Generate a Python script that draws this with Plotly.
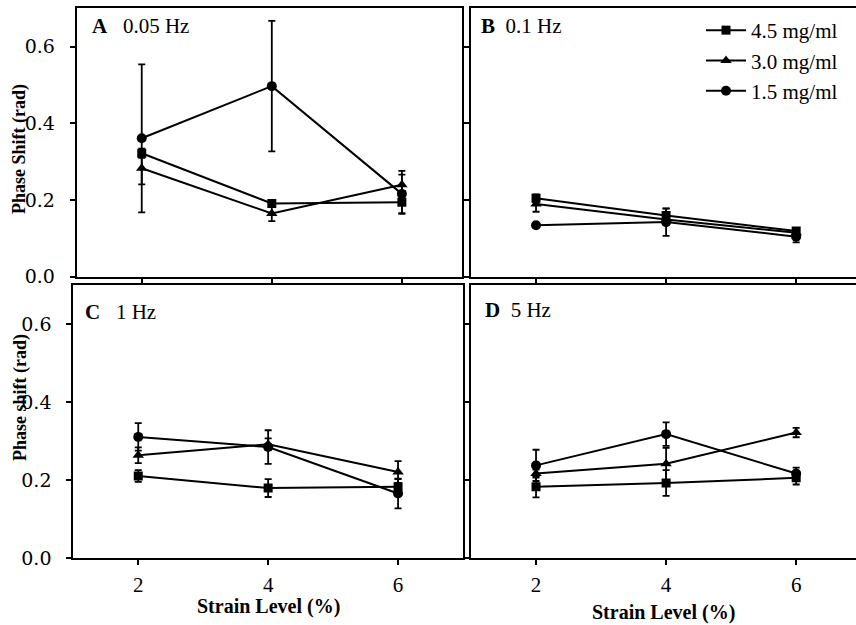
import plotly.graph_objects as go

W, H = 856, 625

strain = [2, 4, 6]
series_names = ["4.5 mg/ml", "3.0 mg/ml", "1.5 mg/ml"]
symbols = ["square", "triangle-up", "circle"]

# Panel A: 0.05 Hz
A_45 = [0.322, 0.191, 0.194]; A_45_err = [0.012, 0.008, 0.030]
A_30 = [0.283, 0.165, 0.240]; A_30_err = [0.042, 0.020, 0.036]
A_15 = [0.361, 0.497, 0.216]; A_15_err = [0.193, 0.170, 0.050]
# Panel B: 0.1 Hz
B_45 = [0.205, 0.160, 0.120]; B_45_err = [0.010, 0.018, 0.008]
B_30 = [0.190, 0.150, 0.115]; B_30_err = [0.020, 0.010, 0.010]
B_15 = [0.135, 0.143, 0.105]; B_15_err = [0.005, 0.036, 0.015]
# Panel C: 1 Hz
C_45 = [0.211, 0.180, 0.183]; C_45_err = [0.015, 0.023, 0.020]
C_30 = [0.264, 0.292, 0.221]; C_30_err = [0.020, 0.015, 0.028]
C_15 = [0.311, 0.285, 0.166]; C_15_err = [0.035, 0.043, 0.038]
# Panel D: 5 Hz
D_45 = [0.183, 0.193, 0.206]; D_45_err = [0.027, 0.033, 0.017]
D_30 = [0.217, 0.242, 0.322]; D_30_err = [0.010, 0.041, 0.012]
D_15 = [0.238, 0.318, 0.217]; D_15_err = [0.040, 0.030, 0.015]

panels = [
    ("x", "y", [(A_45, A_45_err), (A_30, A_30_err), (A_15, A_15_err)]),
    ("x2", "y2", [(B_45, B_45_err), (B_30, B_30_err), (B_15, B_15_err)]),
    ("x3", "y3", [(C_45, C_45_err), (C_30, C_30_err), (C_15, C_15_err)]),
    ("x4", "y4", [(D_45, D_45_err), (D_30, D_30_err), (D_15, D_15_err)]),
]
panel_labels = [("A", "0.05 Hz"), ("B", "0.1 Hz"), ("C", "1 Hz"), ("D", "5 Hz")]

FONT = "Liberation Serif, Times New Roman, serif"
YFONT = "DejaVu Serif, serif"
fig = go.Figure()
for pi, (xa, ya, data) in enumerate(panels):
    for si, (vals, errs) in enumerate(data):
        fig.add_trace(go.Scatter(
            x=strain, y=vals, xaxis=xa, yaxis=ya,
            mode="lines+markers",
            name=series_names[si],
            showlegend=(pi == 1),
            line=dict(color="black", width=2),
            marker=dict(symbol=symbols[si], size=9 if si == 0 else 10, color="black"),
            error_y=dict(type="data", array=errs, visible=True, color="black",
                         thickness=1.8, width=3.5),
        ))

def px_x(p):
    return p / W

def px_y(p):
    return 1 - p / H

common_x = dict(tickvals=[2, 4, 6], ticks="outside", ticklen=5, tickwidth=1.5,
                tickcolor="black", showline=True, linewidth=2, linecolor="black",
                mirror=True, showgrid=False, zeroline=False, automargin=False,
                tickfont=dict(family=FONT, size=21, color="black"),
                ticklabelstandoff=1)
common_y = dict(tickvals=[0, 0.2, 0.4, 0.6], tickformat=".1f", range=[0, 0.7],
                ticks="outside", ticklen=5, tickwidth=1.5, tickcolor="black",
                showline=True, linewidth=2, linecolor="black", showgrid=False,
                zeroline=False, automargin=False,
                tickfont=dict(family=YFONT, size=19, color="black"),
                ticklabelstandoff=11)

fig.update_layout(
    template="none",
    width=W, height=H, margin=dict(l=0, r=0, t=0, b=0, pad=0, autoexpand=False),
    paper_bgcolor="white", plot_bgcolor="white",
    font=dict(family=FONT, color="black"),
    xaxis=dict(common_x, domain=[px_x(76.7), px_x(461.7)], range=[1, 6.92],
               anchor="y", showticklabels=False),
    yaxis=dict(common_y, domain=[px_y(276.7), px_y(8.3)], anchor="x", mirror="ticks"),
    xaxis2=dict(common_x, domain=[px_x(471), 1.0], range=[1, 6.92],
                anchor="y2", showticklabels=False),
    yaxis2=dict(common_y, domain=[px_y(277), px_y(8.3)], anchor="x2",
                showticklabels=False, mirror=False),
    xaxis3=dict(common_x, domain=[px_x(73.3), px_x(463)], range=[1, 7.0], anchor="y3"),
    yaxis3=dict(common_y, domain=[px_y(558.3), px_y(285)], anchor="x3", mirror="ticks"),
    xaxis4=dict(common_x, domain=[px_x(471), 1.0], range=[1, 6.92], anchor="y4"),
    yaxis4=dict(common_y, domain=[px_y(558.3), px_y(285)], anchor="x4",
                showticklabels=False, mirror=False),
    legend=dict(x=px_x(701), y=px_y(10), xanchor="left", yanchor="top",
                bgcolor="rgba(0,0,0,0)", borderwidth=0,
                font=dict(family=FONT, size=21, color="black"),
                tracegroupgap=0, itemwidth=40),
)

# Panel labels
label_pos = [(90, 26), (479, 26), (83, 312), (483, 310)]
for (letter, freq), (lx, ly) in zip(panel_labels, label_pos):
    sep = "&nbsp;&nbsp;&nbsp;" if letter in "AC" else "&nbsp;&nbsp;"
    fig.add_annotation(text=f"<b>{letter}</b>{sep}{freq}",
                       xref="paper", yref="paper", x=px_x(lx), y=px_y(ly),
                       xanchor="left", yanchor="middle", showarrow=False,
                       font=dict(family=FONT, size=21, color="black"))

# Axis titles
fig.add_annotation(text="<b>Phase Shift (rad)</b>", xref="paper", yref="paper",
                   x=px_x(20), y=px_y(149), textangle=-90, showarrow=False,
                   xanchor="center", yanchor="middle",
                   font=dict(family=FONT, size=18, color="black"))
fig.add_annotation(text="<b>Phase shift (rad)</b>", xref="paper", yref="paper",
                   x=px_x(20), y=px_y(398), textangle=-90, showarrow=False,
                   xanchor="center", yanchor="middle",
                   font=dict(family=FONT, size=18, color="black"))
fig.add_annotation(text="<b>Strain Level (%)</b>", xref="paper", yref="paper",
                   x=px_x(268), y=px_y(606), showarrow=False,
                   xanchor="center", yanchor="middle",
                   font=dict(family=FONT, size=20, color="black"))
fig.add_annotation(text="<b>Strain Level (%)</b>", xref="paper", yref="paper",
                   x=px_x(663), y=px_y(612), showarrow=False,
                   xanchor="center", yanchor="middle",
                   font=dict(family=FONT, size=20, color="black"))

post = (
    "document.documentElement.style.cssText='margin:0;padding:0;height:625px;overflow:hidden';"
    "document.body.style.cssText='margin:0;padding:0;height:625px;overflow:hidden';"
    "var d=document.getElementById('{plot_id}');"
    "d.style.position='fixed';d.style.top='0px';d.style.left='0px';"
)
fig.write_html("out.html", post_script=post, config={"displayModeBar": False})
